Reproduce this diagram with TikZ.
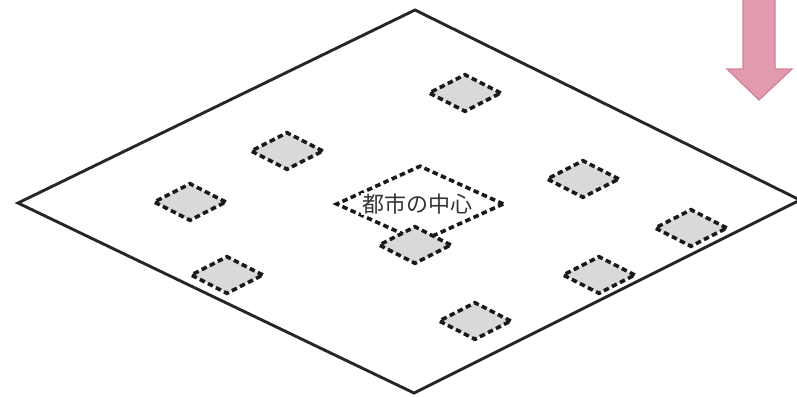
\documentclass[tikz,border=0pt]{standalone}
\usepackage{fontspec}
\newfontfamily\jpfont{Noto Sans CJK JP}
\usetikzlibrary{shapes.geometric, positioning}

\definecolor{arrowpink}{HTML}{E29AAE}
\definecolor{arrowedge}{HTML}{D47F98}
\definecolor{blockgray}{HTML}{D9D9D9}

\begin{document}
\begin{tikzpicture}[x=1pt, y=-1pt,
    block/.style = {diamond, draw=black!90, line width=3.6pt, dash pattern=on 5.5pt off 3.5pt,
                    fill=blockgray, inner sep=0pt, minimum width=73pt, minimum height=38pt},
    centre/.style = {diamond, draw=black!90, line width=3.6pt, dash pattern=on 5.5pt off 3.5pt,
                     inner sep=0pt, minimum width=168pt, minimum height=77pt},
    label/.style = {fill=white, inner sep=1pt, font=\jpfont\fontsize{22}{25}\selectfont, text=black!80}
]
\useasboundingbox (0,0) rectangle (797,396);

% ground plane
\draw[line width=2.9pt, black!85, line join=miter]
    (415,10) -- (800,200) -- (414,393) -- (18,203) -- cycle;

% centre of the city
\node [centre] (core) at (420,204) {};
\node [label] (corelabel) at (417,204) {都市の中心};

% surrounding blocks
\foreach \name/\px/\py in {b1/465/93, b2/287/151, b3/190/202, b4/227/275, b5/415/245,
                           b6/583/179, b7/691/228, b8/599/275, b9/475/321}
    \node [block] (\name) at (\px,\py) {};

% arrow in the corner
\draw[draw=arrowedge, fill=arrowpink, line width=1.2pt, line join=miter]
    (743,-2) -- (743,69) -- (727,69) -- (759,100) -- (792,69) -- (775,69) -- (775,-2) -- cycle;
\end{tikzpicture}
\end{document}
